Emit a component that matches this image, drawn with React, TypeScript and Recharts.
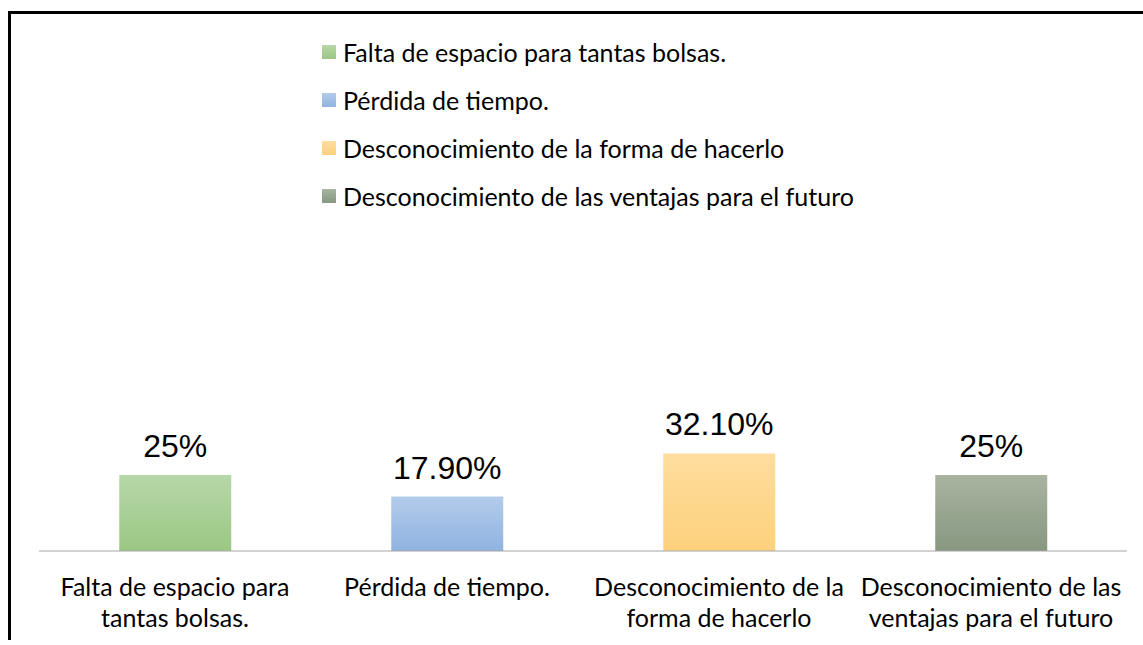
import React from 'react';
import { BarChart, Bar, XAxis, YAxis, Cell, LabelList } from 'recharts';

const categories = [
  'Falta de espacio para tantas bolsas.',
  'Pérdida de tiempo.',
  'Desconocimiento de la forma de hacerlo',
  'Desconocimiento de las ventajas para el futuro',
];
const tickLines = [
  ['Falta de espacio para', 'tantas bolsas.'],
  ['Pérdida de tiempo.'],
  ['Desconocimiento de la', 'forma de hacerlo'],
  ['Desconocimiento de las', 'ventajas para el futuro'],
];
const values = [25, 17.9, 32.1, 25];
const valueLabels = ['25%', '17.90%', '32.10%', '25%'];
const colorsTop = ['#b6d7a8', '#b3cbea', '#fedd9e', '#a8b4a0'];
const colorsBottom = ['#9bc784', '#8fb3e0', '#fdd17c', '#879780'];

const data = categories.map((name, i) => ({
  name,
  value: values[i],
  label: valueLabels[i],
}));

const FONT = 'Lato, "Open Sans", sans-serif';

const CategoryTick = (props: any) => {
  const { x, y, index } = props;
  const lines = tickLines[index] || [];
  return (
    <g>
      {lines.map((t, i) => (
        <text
          key={i}
          x={x}
          y={y + 37 + i * 31}
          textAnchor="middle"
          fontFamily={FONT}
          fontSize={25}
          fill="#000"
        >
          {t}
        </text>
      ))}
    </g>
  );
};

const ValueLabel = (props: any) => {
  const { x, y, width, value } = props;
  return (
    <text
      x={x + width / 2}
      y={y - 18}
      textAnchor="middle"
      fontFamily='"Liberation Sans", Arial, sans-serif'
      fontSize={32}
      fill="#000"
    >
      {value}
    </text>
  );
};

const LegendBox = () => (
  <div
    style={{
      position: 'absolute',
      left: 311,
      top: 14,
      fontFamily: FONT,
      fontSize: 25,
      color: '#000',
      whiteSpace: 'nowrap',
    }}
  >
    {categories.map((c, i) => (
      <div key={c} style={{ display: 'flex', alignItems: 'center', height: 48 }}>
        <span
          style={{
            display: 'inline-block',
            flexShrink: 0,
            width: 14,
            height: 14,
            marginRight: 7,
            background: `linear-gradient(${colorsTop[i]}, ${colorsBottom[i]})`,
          }}
        />
        <span>{c}</span>
      </div>
    ))}
  </div>
);

export default function App() {
  return (
    <div
      style={{
        position: 'absolute',
        left: 8,
        top: 11,
        width: 1135,
        height: 626,
        borderLeft: '3px solid #000',
        borderTop: '3px solid #000',
        overflow: 'hidden',
        background: '#fff',
      }}
    >
      <LegendBox />
      <BarChart
        width={1132}
        height={623}
        data={data}
        margin={{ top: 233, right: 16, left: 28, bottom: 0 }}
        barCategoryGap="29.5%"
      >
        <defs>
          {colorsTop.map((c, i) => (
            <linearGradient key={i} id={`grad${i}`} x1="0" y1="0" x2="0" y2="1">
              <stop offset="0%" stopColor={c} />
              <stop offset="100%" stopColor={colorsBottom[i]} />
            </linearGradient>
          ))}
        </defs>
        <XAxis
          dataKey="name"
          height={86}
          tickLine={false}
          axisLine={{ stroke: '#a6a6a6', strokeWidth: 1 }}
          tick={<CategoryTick />}
          interval={0}
        />
        <YAxis hide domain={[0, 100]} />
        <Bar dataKey="value" isAnimationActive={false}>
          {data.map((d, i) => (
            <Cell key={d.name} fill={`url(#grad${i})`} />
          ))}
          <LabelList dataKey="label" content={<ValueLabel />} />
        </Bar>
      </BarChart>
    </div>
  );
}
